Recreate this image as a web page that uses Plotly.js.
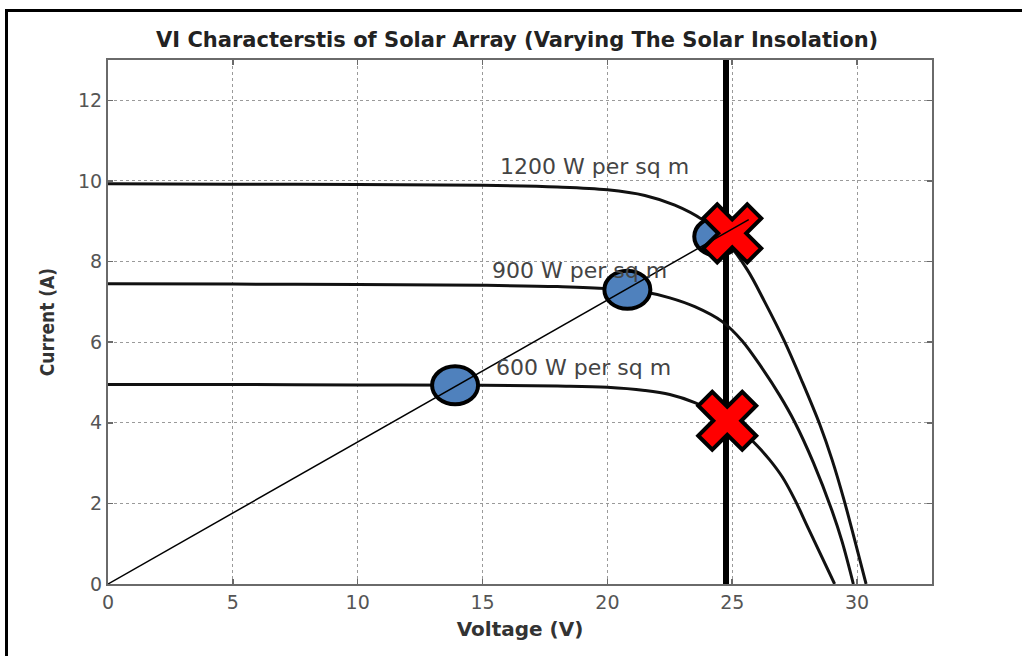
<!DOCTYPE html>
<html>
<head>
<meta charset="utf-8">
<script src="https://cdn.plot.ly/plotly-3.0.1.min.js"></script>
<style>
  html, body { margin: 0; padding: 0; background: #fff; }
  #wrap { position: relative; width: 1022px; height: 656px; overflow: hidden; }
  #chart { position: absolute; left: 0; top: 0; width: 1022px; height: 656px; }
  #frame { position: absolute; left: 5px; top: 9px; width: 1030px; height: 660px;
           border-left: 3px solid #000; border-top: 3px solid #000; pointer-events: none; }
</style>
</head>
<body>
<div id="wrap"><div id="chart"></div><div id="frame"></div></div>
<script>
// ---- data ----
const v1200 = [0, 5, 10, 15, 18, 20, 21.5, 22.7, 23.8, 24.7, 25.6, 26.3, 27.07, 27.8, 28.51, 29.0, 29.47, 29.9, 30.36];
const i1200 = [9.93, 9.92, 9.91, 9.89, 9.85, 9.78, 9.64, 9.4, 9.04, 8.55, 7.8, 7.0, 6.05, 5.02, 3.95, 3.08, 2.1, 1.1, 0];

const v900 = [0, 5, 10, 15, 18, 20, 21.6, 22.5, 23.5, 24.6, 25.4, 26.2, 26.9, 27.5, 28.25, 29, 29.4, 29.85];
const i900 = [7.45, 7.44, 7.43, 7.41, 7.38, 7.33, 7.23, 7.1, 6.88, 6.51, 6.03, 5.35, 4.68, 4.02, 3.01, 1.81, 1.05, 0];

const v600 = [0, 5, 10, 15, 18, 20, 21.5, 22.5, 23.5, 24.5, 25.3, 26, 26.5, 27, 27.5, 28.07, 29.1];
const i600 = [4.95, 4.95, 4.94, 4.93, 4.91, 4.88, 4.8, 4.7, 4.5, 4.2, 3.85, 3.43, 3.08, 2.66, 2.1, 1.35, 0];

const curveLabels = ['1200 W per sq m', '900 W per sq m', '600 W per sq m'];
const labelV = [19.5, 18.9, 19.05];
const labelI = [10.36, 7.78, 5.37];

// maximum power points (blue ellipses)
const mppV = [13.9, 20.8, 24.4];
const mppI = [4.93, 7.3, 8.62];

// operating points at fixed voltage (red crosses)
const fixV = [25.0, 24.8];
const fixI = [8.7, 4.05];

// fixed-voltage line
const fixedLineV = [24.75, 24.75];
const fixedLineI = [0, 13];

// load line through the maximum power points
const loadV = [0, 25.66];
const loadI = [0, 9.04];

const xTicks = [0, 5, 10, 15, 20, 25, 30];
const yTicks = [0, 2, 4, 6, 8, 10, 12];

const titleText = 'VI Characterstis of Solar Array (Varying The Solar Insolation)';
const xTitle = 'Voltage (V)';
const yTitle = 'Current (A)';

// ---- traces ----
const curveStyle = {color: '#111', width: 3, shape: 'spline', smoothing: 1};
const traces = [
  {x: fixedLineV, y: fixedLineI, mode: 'lines', line: {color: '#000', width: 6}, hoverinfo: 'skip', cliponaxis: false},
  {x: v1200, y: i1200, mode: 'lines', line: curveStyle},
  {x: v900, y: i900, mode: 'lines', line: curveStyle},
  {x: v600, y: i600, mode: 'lines', line: curveStyle}
];

// ---- shapes: ellipses, crosses, load line (drawn above the curves in this order) ----
const shapes = [];
mppV.forEach((v, k) => {
  shapes.push({type: 'circle', layer: 'above',
    xref: 'x', yref: 'y', xsizemode: 'pixel', ysizemode: 'pixel',
    xanchor: v, yanchor: mppI[k], x0: -23, x1: 23, y0: -19, y1: 19,
    fillcolor: '#4F81BD', line: {color: '#000', width: 4}});
});
const a = 29, t = 14;
const xPath = 'M' + [
  [-a, -a + t], [-a + t, -a], [0, -t], [a - t, -a], [a, -a + t], [t, 0],
  [a, a - t], [a - t, a], [0, t], [-a + t, a], [-a, a - t], [-t, 0]
].map(p => p[0] + ',' + p[1]).join(' L') + ' Z';
fixV.forEach((v, k) => {
  shapes.push({type: 'path', layer: 'above',
    xref: 'x', yref: 'y', xsizemode: 'pixel', ysizemode: 'pixel',
    xanchor: v, yanchor: fixI[k], path: xPath,
    fillcolor: '#FF0000', line: {color: '#000', width: 4}});
});
shapes.push({type: 'line', layer: 'above', xref: 'x', yref: 'y',
  x0: loadV[0], y0: loadI[0], x1: loadV[1], y1: loadI[1],
  line: {color: '#000', width: 1.5}});

const annotations = curveLabels.map((txt, k) => ({
  x: labelV[k], y: labelI[k], xref: 'x', yref: 'y', text: txt, showarrow: false,
  font: {family: 'DejaVu Sans, sans-serif', size: 22, color: '#444'}
}));

const axisCommon = {
  showline: true, linecolor: '#6a6a6a', linewidth: 2, mirror: 'ticks',
  ticks: 'inside', ticklen: 5, tickcolor: '#6a6a6a', tickwidth: 1.5,
  showgrid: true, gridcolor: '#9a9a9a', griddash: 'dot', gridwidth: 1,
  zeroline: false,
  tickfont: {family: 'DejaVu Sans, sans-serif', size: 19, color: '#555'}
};

const layout = {
  width: 1022, height: 656,
  margin: {l: 108, r: 90, t: 60, b: 72},
  paper_bgcolor: '#fff', plot_bgcolor: '#fff',
  showlegend: false,
  title: {text: '<b>' + titleText + '</b>', x: 0.506, xanchor: 'center', y: 0.94, yanchor: 'middle',
    font: {family: 'DejaVu Sans, sans-serif', size: 21, color: '#222'}},
  xaxis: Object.assign({}, axisCommon, {
    range: [0, 33], tickvals: xTicks, ticktext: xTicks.map(String),
    title: {text: '<b>' + xTitle + '</b>', standoff: 10,
      font: {family: 'DejaVu Sans, sans-serif', size: 20, color: '#333'}}
  }),
  yaxis: Object.assign({}, axisCommon, {
    range: [0, 13], tickvals: yTicks, ticktext: yTicks.map(String),
    title: {text: '<b>' + yTitle + '</b>', standoff: 18,
      font: {family: 'DejaVu Sans Condensed, DejaVu Sans, sans-serif', size: 19, color: '#333'}}
  }),
  shapes: shapes,
  annotations: annotations
};

Plotly.newPlot('chart', traces, layout, {staticPlot: true, displayModeBar: false});
</script>
</body>
</html>
